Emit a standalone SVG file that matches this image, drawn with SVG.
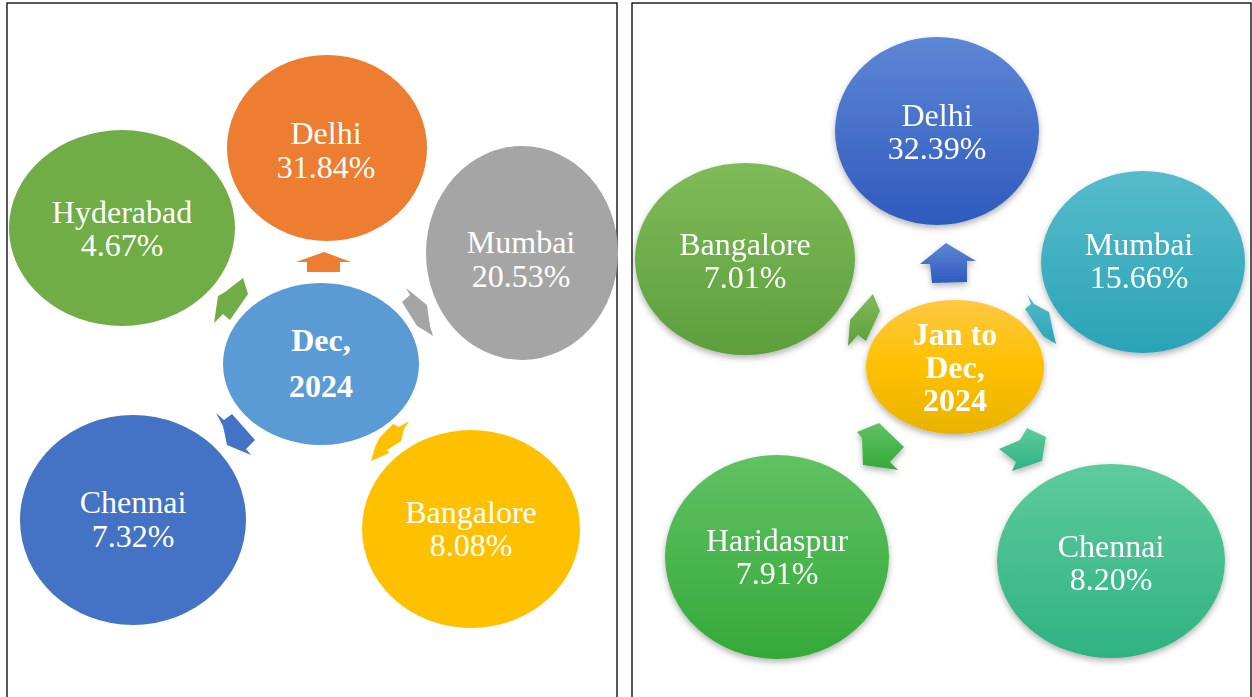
<svg xmlns="http://www.w3.org/2000/svg" width="1252" height="697" viewBox="0 0 1252 697">
<defs>
<style>
.frame{fill:none;stroke:#000;stroke-width:1.3}
.lbl{font-family:"Liberation Serif","Times New Roman",serif;font-size:32px;fill:#fff;text-anchor:middle}
.ctr{font-family:"Liberation Serif","Times New Roman",serif;font-size:32px;font-weight:bold;fill:#fff;text-anchor:middle}
</style>
<linearGradient id="gBlue" x1="0" y1="0" x2="0" y2="1"><stop offset="0" stop-color="#5d86d6"/><stop offset="1" stop-color="#2e5bbd"/></linearGradient>
<linearGradient id="gTeal" x1="0" y1="0" x2="0" y2="1"><stop offset="0" stop-color="#56bccb"/><stop offset="1" stop-color="#2aa3b6"/></linearGradient>
<linearGradient id="gGreen" x1="0" y1="0" x2="0" y2="1"><stop offset="0" stop-color="#80bb5a"/><stop offset="1" stop-color="#5c9f3c"/></linearGradient>
<linearGradient id="gYel" x1="0" y1="0" x2="0" y2="1"><stop offset="0" stop-color="#ffc842"/><stop offset="0.5" stop-color="#ffc000"/><stop offset="1" stop-color="#e8b300"/></linearGradient>
<linearGradient id="gHar" x1="0" y1="0" x2="0" y2="1"><stop offset="0" stop-color="#5fc263"/><stop offset="1" stop-color="#35a93a"/></linearGradient>
<linearGradient id="gChe" x1="0" y1="0" x2="0" y2="1"><stop offset="0" stop-color="#5ecb9d"/><stop offset="1" stop-color="#2fb282"/></linearGradient>
<filter id="sh" x="-20%" y="-20%" width="140%" height="150%"><feDropShadow dx="0" dy="3" stdDeviation="3" flood-color="#000" flood-opacity="0.3"/></filter>
</defs>
<rect width="1252" height="697" fill="#fff"/>
<rect class="frame" x="7" y="3" width="610" height="710"/>
<rect class="frame" x="632" y="3" width="619" height="710"/>

<g id="connectors">
<polygon fill="#ed7d31" points="324,252 351,262 340,262 340,272 307,272 307,262 296,262"/>
<polygon fill="#70ad47" points="243,278 248,294 230,320 223,314 214,323 218,296 225,292"/>
<polygon fill="#a5a5a5" points="406,288 427,305 430,326 433,336 427,332 417,326 402,302 410,295"/>
<polygon fill="#4472c4" points="216,413 224,420 232,414 255,440 246,449 251,455 227,445 223,426"/>
<polygon fill="#ffc000" points="409,421 404,429 401,441 387,450 389,453 371,461 375,447 380,437 393,424 399,427"/>
<g filter="url(#sh)">
<polygon fill="url(#gBlue)" points="946,243 976,261 967,261 967,282 932,283 930,264 920,264"/>
<polygon fill="url(#gGreen)" points="873,294 880,311 866,341 858,335 848,346 850,320 856,313"/>
<polygon fill="url(#gTeal)" points="1027,294 1034,304 1049,312 1053,331 1056,344 1043,336 1025,309 1031,304"/>
<polygon fill="url(#gHar)" points="857,432 879,423 904,447 890,462 898,470 863,465 862,438"/>
<polygon fill="url(#gChe)" points="1027,428 1046,437 1042,461 1012,471 1016,462 999,449 1020,440"/>
</g>
</g>

<g id="l-delhi"><ellipse cx="327" cy="148" rx="100" ry="93" fill="#ed7d31"/><text class="lbl" x="326" y="144">Delhi</text><text class="lbl" x="326" y="178">31.84%</text></g>
<g id="l-hyd"><ellipse cx="122" cy="228" rx="113" ry="98" fill="#70ad47"/><text class="lbl" x="122" y="223">Hyderabad</text><text class="lbl" x="122" y="256">4.67%</text></g>
<g id="l-mum"><ellipse cx="522" cy="253" rx="96" ry="107" fill="#a5a5a5"/><text class="lbl" x="521" y="253">Mumbai</text><text class="lbl" x="521" y="287">20.53%</text></g>
<g id="l-center"><ellipse cx="321" cy="364" rx="98" ry="81" fill="#5b9bd5"/><text class="ctr" x="321" y="351">Dec,</text><text class="ctr" x="321" y="397">2024</text></g>
<g id="l-che"><ellipse cx="133" cy="520" rx="113" ry="105" fill="#4472c4"/><text class="lbl" x="133" y="513">Chennai</text><text class="lbl" x="133" y="547">7.32%</text></g>
<g id="l-blr"><ellipse cx="471" cy="529" rx="109" ry="99" fill="#ffc000"/><text class="lbl" x="471" y="523">Bangalore</text><text class="lbl" x="471" y="556">8.08%</text></g>

<g filter="url(#sh)">
<g id="r-delhi"><ellipse cx="937" cy="131" rx="102" ry="94" fill="url(#gBlue)"/><text class="lbl" x="937" y="126">Delhi</text><text class="lbl" x="937" y="159">32.39%</text></g>
<g id="r-mum"><ellipse cx="1143" cy="262" rx="102" ry="91" fill="url(#gTeal)"/><text class="lbl" x="1139" y="255">Mumbai</text><text class="lbl" x="1139" y="288">15.66%</text></g>
<g id="r-blr"><ellipse cx="745" cy="259" rx="110" ry="96" fill="url(#gGreen)"/><text class="lbl" x="745" y="255">Bangalore</text><text class="lbl" x="745" y="288">7.01%</text></g>
<g id="r-center"><ellipse cx="955" cy="367" rx="89" ry="67" fill="url(#gYel)"/><text class="ctr" x="955" y="345">Jan to</text><text class="ctr" x="955" y="378">Dec,</text><text class="ctr" x="955" y="411">2024</text></g>
<g id="r-har"><ellipse cx="777" cy="557" rx="112" ry="102" fill="url(#gHar)"/><text class="lbl" x="777" y="551">Haridaspur</text><text class="lbl" x="777" y="584">7.91%</text></g>
<g id="r-che"><ellipse cx="1111" cy="561" rx="114" ry="97" fill="url(#gChe)"/><text class="lbl" x="1111" y="557">Chennai</text><text class="lbl" x="1111" y="590">8.20%</text></g>
</g>
</svg>
